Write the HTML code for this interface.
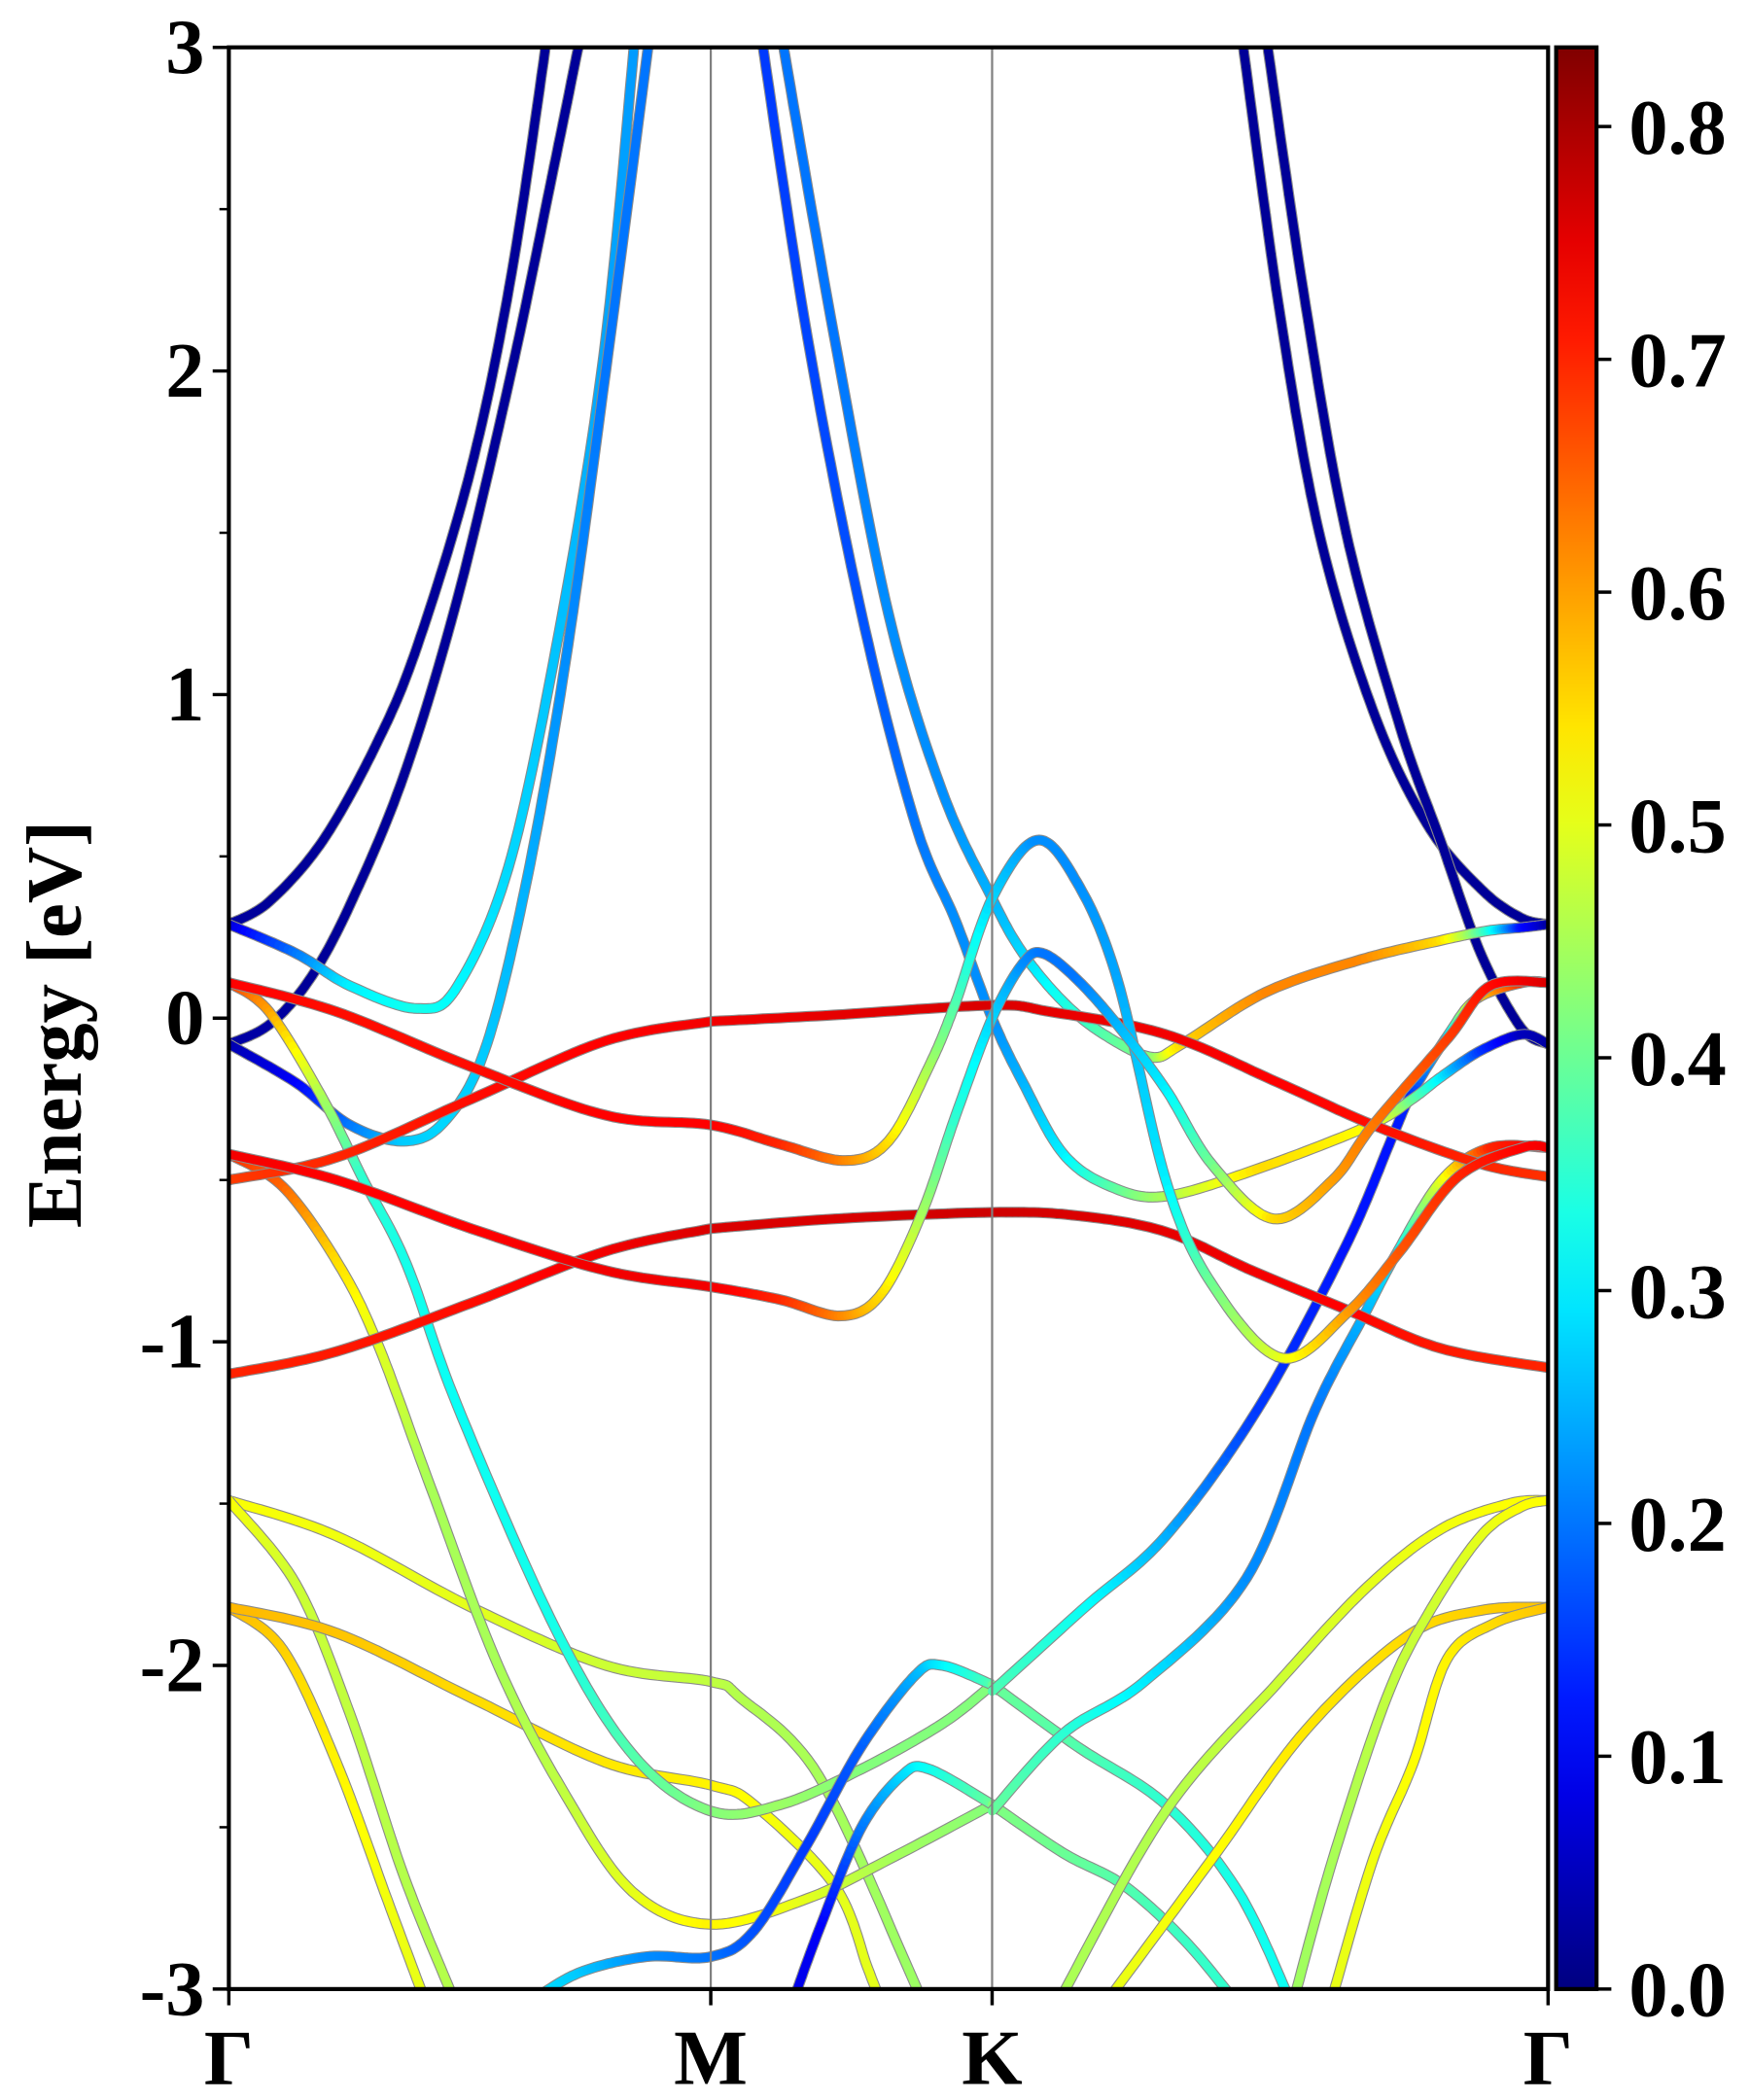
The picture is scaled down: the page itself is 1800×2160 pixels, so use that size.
<!DOCTYPE html>
<html><head><meta charset="utf-8"><style>
html,body{margin:0;padding:0;background:#fff;}
svg{display:block;}
text{font-family:"Liberation Serif","Times New Roman",serif;font-weight:bold;fill:#000;}
</style></head>
<body>
<svg id="chart" width="1800" height="2160" viewBox="0 0 1300 1552" preserveAspectRatio="none" xmlns="http://www.w3.org/2000/svg">
<defs>
<clipPath id="plotclip"><rect x="170" y="35" width="980" height="1435"/></clipPath>
<linearGradient id="jetgrad" x1="0" y1="1" x2="0" y2="0"></linearGradient>
</defs>
<rect x="0" y="0" width="1300" height="1552" fill="#fff"/>
<g id="bands" clip-path="url(#plotclip)"></g>
<g id="axes"></g>
</svg>
<script>
// ---- data ----
const kLabels = ["Γ","M","K","Γ"];
const kTicks = [0, 3.58, 5.67, 9.8];
const yTicks = [-3,-2,-1,0,1,2,3];
const yTickLabels = ["-3","-2","-1","0","1","2","3"];
const cbTicks = [0,0.1,0.2,0.3,0.4,0.5,0.6,0.7,0.8];
const cbTickLabels = ["0.0","0.1","0.2","0.3","0.4","0.5","0.6","0.7","0.8"];
const cbMax = 0.834;

const bandA1_k=[0,.3,.7,1.1,1.4,1.8,2.1,2.37];
const bandA1_E=[.29,.36,.55,.85,1.15,1.7,2.3,3.05];
const bandA1_w=[.03,.02,.02,.02,.02,.02,.02,.02];
const bandA2_k=[0,.3,.6,.9,1.3,1.7,2.1,2.4,2.62];
const bandA2_E=[-.08,-.02,.12,.35,.75,1.3,2.0,2.6,3.05];
const bandA2_w=[.03,.03,.02,.02,.02,.02,.02,.02,.02];
const bandB_k=[0,.5,.9,1.4,1.7,2.1,2.5,2.8,3.02];
const bandB_E=[.29,.2,.1,.03,.1,.5,1.3,2.1,3.05];
const bandB_w=[.06,.2,.3,.33,.31,.28,.26,.24,.23];
const bandC_k=[0,.5,.9,1.3,1.6,1.9,2.2,2.5,2.8,3.13];
const bandC_E=[-.08,-.2,-.33,-.38,-.32,-.1,.4,1.1,2.0,3.05];
const bandC_w=[.03,.1,.2,.27,.28,.27,.25,.22,.2,.2];
const bandRtL_k=[0,.8,1.8,2.8,3.58];
const bandRtL_E=[-.5,-.43,-.25,-.07,-.01];
const bandRtL_w=[.68,.7,.72,.73,.74];
const bandRtR_k=[3.58,4.5,5.67,6.1,6.96,7.8,8.5,9.3,9.8];
const bandRtR_E=[-.01,.01,.04,.02,-.05,-.2,-.33,-.45,-.49];
const bandRtR_w=[.74,.75,.76,.75,.74,.73,.72,.7,.69];
const bandR1_k=[0,.8,1.8,2.8,3.58,4.1,4.58,4.9,5.2,5.4,5.67,6.0,6.3,6.6,6.96,7.3,7.82,8.31,8.7,9.13,9.61,9.8];
const bandR1_E=[.11,.02,-.15,-.3,-.33,-.39,-.44,-.38,-.15,.05,.37,.55,.42,.12,-.5,-.82,-1.05,-.91,-.72,-.49,-.4,-.4];
const bandR1_w=[.73,.72,.72,.73,.73,.7,.62,.55,.45,.38,.28,.22,.22,.24,.3,.4,.5,.6,.66,.7,.73,.74];
const bandR2_k=[0,.8,1.8,2.8,3.58,4.1,4.55,4.85,5.15,5.4,5.67,5.9,6.05,6.3,6.6,6.96,7.3,7.76,8.2,8.5,9.06,9.37,9.8];
const bandR2_E=[-.42,-.5,-.65,-.78,-.83,-.87,-.92,-.85,-.6,-.3,0,.17,.2,.12,-.02,-.22,-.45,-.62,-.5,-.33,-.06,.1,.11];
const bandR2_w=[.74,.73,.73,.74,.74,.7,.62,.55,.45,.35,.28,.22,.2,.2,.25,.3,.4,.55,.6,.63,.68,.72,.76];
const bandRlL_k=[0,.8,1.8,2.8,3.58];
const bandRlL_E=[-1.1,-1.03,-.88,-.72,-.65];
const bandRlL_w=[.7,.71,.72,.74,.76];
const bandRlR_k=[3.58,4.5,5.67,6.3,6.96,7.6,8.3,9.0,9.8];
const bandRlR_E=[-.65,-.62,-.6,-.61,-.66,-.78,-.9,-1.02,-1.08];
const bandRlR_w=[.76,.76,.77,.76,.75,.74,.73,.71,.7];
const bandDL_k=[3.95,4.3,4.7,5.1,5.4,5.67,5.9,6.2,6.55,6.96,7.68,8.48,8.79,9.01,9.3,9.61,9.8];
const bandDL_E=[3.05,2.1,1.25,.6,.3,0,-.2,-.42,-.52,-.55,-.46,-.33,-.25,-.18,-.1,-.05,-.08];
const bandDL_w=[.15,.16,.17,.2,.22,.22,.25,.3,.38,.45,.55,.52,.4,.3,.15,.05,.03];
const bandDR_k=[4.1,4.5,4.9,5.3,5.67,5.9,6.2,6.5,6.85,7.08,7.7,8.4,9.0,9.35,9.6,9.8];
const bandDR_E=[3.05,2.1,1.25,.7,.37,.2,.05,-.05,-.12,-.08,.08,.18,.24,.27,.28,.29];
const bandDR_w=[.2,.2,.22,.22,.25,.28,.33,.38,.42,.55,.62,.62,.55,.35,.12,.03];
const bandNR1_k=[7.52,7.8,8.1,8.5,8.9,9.3,9.6,9.8];
const bandNR1_E=[3.05,2.2,1.5,.95,.6,.4,.31,.29];
const bandNR1_w=[.02,.02,.02,.02,.02,.02,.02,.02];
const bandNR2_k=[7.7,8.0,8.3,8.7,9.0,9.3,9.6,9.8];
const bandNR2_E=[3.05,2.2,1.5,.9,.55,.2,-.03,-.08];
const bandNR2_w=[.02,.02,.02,.02,.02,.02,.02,.02];
const bandKB1_k=[5.67,6.36,6.96,7.64,8.29,8.65,8.79,9.06,9.27,9.61,9.8];
const bandKB1_E=[-2.08,-1.82,-1.6,-1.21,-.71,-.36,-.23,-.05,.06,.11,.11];
const bandKB1_w=[.38,.32,.25,.15,.12,.12,.14,.3,.55,.7,.75];
const bandKB2_k=[5.67,6.2,6.8,7.56,8.07,8.43,8.67,9.01,9.37,9.8];
const bandKB2_E=[-2.45,-2.21,-2.05,-1.73,-1.21,-.92,-.73,-.5,-.4,-.4];
const bandKB2_w=[.4,.35,.3,.22,.2,.25,.3,.5,.7,.74];
const bandG1_k=[0,.8,1.8,2.8,3.58,3.8,4.38,5.05,5.15];
const bandG1_E=[-1.49,-1.6,-1.82,-2.0,-2.05,-2.1,-2.34,-2.94,-3.05];
const bandG1_w=[.52,.51,.5,.48,.47,.46,.45,.44,.44];
const bandG2_k=[0,.5,.9,1.3,1.69];
const bandG2_E=[-1.49,-1.75,-2.15,-2.65,-3.05];
const bandG2_w=[.52,.48,.47,.46,.46];
const bandG2b_k=[0,.4,.8,1.2,1.47];
const bandG2b_E=[-1.82,-1.95,-2.3,-2.75,-3.05];
const bandG2b_w=[.58,.56,.53,.51,.5];
const bandG3_k=[0,.8,1.8,2.8,3.58,3.9,4.5,4.75,4.85];
const bandG3_E=[-1.82,-1.9,-2.1,-2.3,-2.37,-2.43,-2.68,-2.94,-3.05];
const bandG3_w=[.58,.57,.55,.54,.53,.52,.5,.5,.5];
const bandLa_k=[0,.4,.8,1.1,1.5,2.0,2.5,3.0,3.58,4.3,4.9,5.67];
const bandLa_E=[-.42,-.52,-.75,-1.0,-1.45,-2.0,-2.4,-2.7,-2.8,-2.72,-2.6,-2.43];
const bandLa_w=[.7,.65,.55,.5,.45,.45,.47,.5,.53,.5,.45,.42];
const bandLb_k=[0,.3,.7,1.0,1.32,1.7,2.43,3.01,3.58,4.1,4.7,5.3,5.67];
const bandLb_E=[.11,.02,-.25,-.5,-.76,-1.2,-1.89,-2.28,-2.45,-2.43,-2.32,-2.18,-2.06];
const bandLb_w=[.7,.6,.45,.35,.33,.32,.33,.38,.42,.44,.42,.42,.42];
const bandBL1_k=[2.2,2.6,3.1,3.58,3.9,4.3,4.7,5.1,5.3,5.67];
const bandBL1_E=[-3.05,-2.95,-2.9,-2.9,-2.82,-2.55,-2.25,-2.03,-2.0,-2.06];
const bandBL1_w=[.3,.27,.22,.2,.17,.15,.18,.25,.3,.38];
const bandBL2_k=[4.18,4.4,4.7,5.0,5.2,5.67];
const bandBL2_E=[-3.05,-2.8,-2.5,-2.34,-2.32,-2.43];
const bandBL2_w=[.08,.1,.2,.28,.32,.4];
const bandGK1_k=[5.67,6.3,6.96,7.5,7.9];
const bandGK1_E=[-2.06,-2.25,-2.43,-2.7,-3.05];
const bandGK1_w=[.4,.38,.35,.33,.32];
const bandGK2_k=[5.67,6.2,6.65,7.1,7.5];
const bandGK2_E=[-2.43,-2.58,-2.68,-2.85,-3.05];
const bandGK2_w=[.42,.4,.38,.36,.35];
const bandGR1_k=[6.15,6.96,7.8,8.45,9.0,9.51,9.8];
const bandGR1_E=[-3.05,-2.45,-2.05,-1.76,-1.58,-1.5,-1.49];
const bandGR1_w=[.45,.46,.48,.5,.51,.52,.52];
const bandGR2_k=[6.5,7.3,8.0,8.75,9.3,9.8];
const bandGR2_E=[-3.05,-2.6,-2.2,-1.91,-1.83,-1.82];
const bandGR2_w=[.5,.52,.54,.55,.56,.57];
const bandGR3_k=[7.9,8.2,8.6,8.91,9.3,9.6,9.8];
const bandGR3_E=[-3.05,-2.6,-2.1,-1.84,-1.6,-1.51,-1.49];
const bandGR3_w=[.44,.45,.47,.48,.5,.52,.52];
const bandGR4_k=[8.18,8.5,8.8,9.05,9.4,9.8];
const bandGR4_E=[-3.05,-2.6,-2.3,-1.98,-1.87,-1.82];
const bandGR4_w=[.5,.51,.52,.53,.55,.57];

const bands=[
 ["band-a1",bandA1_k,bandA1_E,bandA1_w],["band-a2",bandA2_k,bandA2_E,bandA2_w],
 ["band-b",bandB_k,bandB_E,bandB_w],["band-c",bandC_k,bandC_E,bandC_w],
 ["band-nr1",bandNR1_k,bandNR1_E,bandNR1_w],["band-nr2",bandNR2_k,bandNR2_E,bandNR2_w],
 ["band-g1",bandG1_k,bandG1_E,bandG1_w],["band-g2",bandG2_k,bandG2_E,bandG2_w],
 ["band-g2b",bandG2b_k,bandG2b_E,bandG2b_w],["band-g3",bandG3_k,bandG3_E,bandG3_w],
 ["band-la",bandLa_k,bandLa_E,bandLa_w],["band-lb",bandLb_k,bandLb_E,bandLb_w],
 ["band-bl1",bandBL1_k,bandBL1_E,bandBL1_w],["band-bl2",bandBL2_k,bandBL2_E,bandBL2_w],
 ["band-gk1",bandGK1_k,bandGK1_E,bandGK1_w],["band-gk2",bandGK2_k,bandGK2_E,bandGK2_w],
 ["band-gr1",bandGR1_k,bandGR1_E,bandGR1_w],["band-gr2",bandGR2_k,bandGR2_E,bandGR2_w],
 ["band-gr3",bandGR3_k,bandGR3_E,bandGR3_w],["band-gr4",bandGR4_k,bandGR4_E,bandGR4_w],
 ["band-kb1",bandKB1_k,bandKB1_E,bandKB1_w],["band-kb2",bandKB2_k,bandKB2_E,bandKB2_w],
 ["band-dl",bandDL_k,bandDL_E,bandDL_w],["band-dr",bandDR_k,bandDR_E,bandDR_w],
 ["band-red-top-left",bandRtL_k,bandRtL_E,bandRtL_w],["band-red-top-right",bandRtR_k,bandRtR_E,bandRtR_w],
 ["band-red-low-left",bandRlL_k,bandRlL_E,bandRlL_w],["band-red-low-right",bandRlR_k,bandRlR_E,bandRlR_w],
 ["band-r1",bandR1_k,bandR1_E,bandR1_w],["band-r2",bandR2_k,bandR2_E,bandR2_w]
];

// ---- axes functions ----
const PX0=170, PX1=1150, PY0=35, PY1=1470, KMAX=9.8, EMIN=-3, EMAX=3;
function xs(k){return PX0+(k/KMAX)*(PX1-PX0);}
function ys(E){return PY0+(EMAX-E)/(EMAX-EMIN)*(PY1-PY0);}
function cy(v){return PY1-(v/cbMax)*(PY1-PY0);}
function clamp(v){return Math.max(0,Math.min(1,v));}
function jet(t){
  const r=clamp(1.5-Math.abs(4*t-3)), g=clamp(1.5-Math.abs(4*t-2)), b=clamp(1.5-Math.abs(4*t-1));
  return "rgb("+Math.round(r*255)+","+Math.round(g*255)+","+Math.round(b*255)+")";
}
const NS="http://www.w3.org/2000/svg";
function mk(tag,attrs,parent){const e=document.createElementNS(NS,tag);for(const a in attrs)e.setAttribute(a,attrs[a]);parent.appendChild(e);return e;}

// ---- bands ----
const gB=document.getElementById("bands");
bands.forEach(function(b){
  const name=b[0],K=b[1],E=b[2],W=b[3];
  const P=K.map(function(k,i){return [xs(k),ys(E[i]),W[i]];});
  const pts=[];
  const N=16;
  for(let i=0;i<P.length-1;i++){
    const p0=P[Math.max(0,i-1)],p1=P[i],p2=P[i+1],p3=P[Math.min(P.length-1,i+2)];
    for(let s=0;s<N;s++){
      const t=s/N,t2=t*t,t3=t2*t;
      const x=0.5*((2*p1[0])+(-p0[0]+p2[0])*t+(2*p0[0]-5*p1[0]+4*p2[0]-p3[0])*t2+(-p0[0]+3*p1[0]-3*p2[0]+p3[0])*t3);
      const y=0.5*((2*p1[1])+(-p0[1]+p2[1])*t+(2*p0[1]-5*p1[1]+4*p2[1]-p3[1])*t2+(-p0[1]+3*p1[1]-3*p2[1]+p3[1])*t3);
      pts.push([x,y,p1[2]+(p2[2]-p1[2])*t]);
    }
  }
  const L=P[P.length-1];pts.push([L[0],L[1],L[2]]);
  const g=mk("g",{},gB);
  
  
  const outline=mk("polyline",{points:pts.map(function(p){return p[0].toFixed(1)+","+p[1].toFixed(1);}).join(" "),fill:"none",stroke:"#8a8a8a","stroke-width":"8","stroke-linejoin":"round"},g);
  
  
  for(let i=0;i<pts.length-1;i++){
    const a=pts[i],c=pts[i+1];
    const seg=mk("line",{x1:a[0].toFixed(1),y1:a[1].toFixed(1),x2:c[0].toFixed(1),y2:c[1].toFixed(1),stroke:jet(((a[2]+c[2])/2)/cbMax),"stroke-width":"6.4","stroke-linecap":"round"},g);
    
    
  }
});

// ---- axes ----
const gA=document.getElementById("axes");
kTicks.forEach(function(k,i){
  if(i>0&&i<kTicks.length-1){
    const v=mk("line",{x1:xs(k),y1:PY0,x2:xs(k),y2:PY1,stroke:"#808080","stroke-width":"1.6"},gA);
    
    
  }
  const t=mk("line",{x1:xs(k),y1:PY1,x2:xs(k),y2:PY1+12,stroke:"#000","stroke-width":"2.5"},gA);
  
  
  const lb=mk("text",{x:xs(k),y:PY1+70,"text-anchor":"middle","font-size":"58"},gA);
  lb.textContent=kLabels[i];
  
  
});
for(let e=-3;e<=3.001;e+=0.5){
  const major=Math.abs(e-Math.round(e))<1e-6;
  const t=mk("line",{x1:PX0-(major?12:7),y1:ys(e),x2:PX0,y2:ys(e),stroke:"#000","stroke-width":major?"2.5":"1.8"},gA);
  
  
}
yTicks.forEach(function(e,i){
  const lb=mk("text",{x:152,y:ys(e)+19,"text-anchor":"end","font-size":"58"},gA);
  lb.textContent=yTickLabels[i];
  
  
});
const frame=mk("rect",{x:PX0,y:PY0,width:PX1-PX0,height:PY1-PY0,fill:"none",stroke:"#000","stroke-width":"3"},gA);


const yl=mk("text",{x:0,y:0,"text-anchor":"middle","font-size":"58",transform:"translate(60,757) rotate(-90)"},gA);
yl.textContent="Energy [eV]";



// ---- colorbar ----
const grad=document.getElementById("jetgrad");
for(let i=0;i<=20;i++){const s=mk("stop",{offset:(i/20),"stop-color":jet(i/20)},grad);}
const cb=mk("rect",{x:1156,y:PY0,width:30,height:PY1-PY0,fill:"url(#jetgrad)",stroke:"#000","stroke-width":"3"},gA);


cbTicks.forEach(function(v,i){
  const t=mk("line",{x1:1186,y1:cy(v),x2:1197,y2:cy(v),stroke:"#000","stroke-width":"2.5"},gA);
  
  
  const lb=mk("text",{x:1210,y:cy(v)+20,"text-anchor":"start","font-size":"58"},gA);
  lb.textContent=cbTickLabels[i];
  
  
});
</script>
</body></html>
